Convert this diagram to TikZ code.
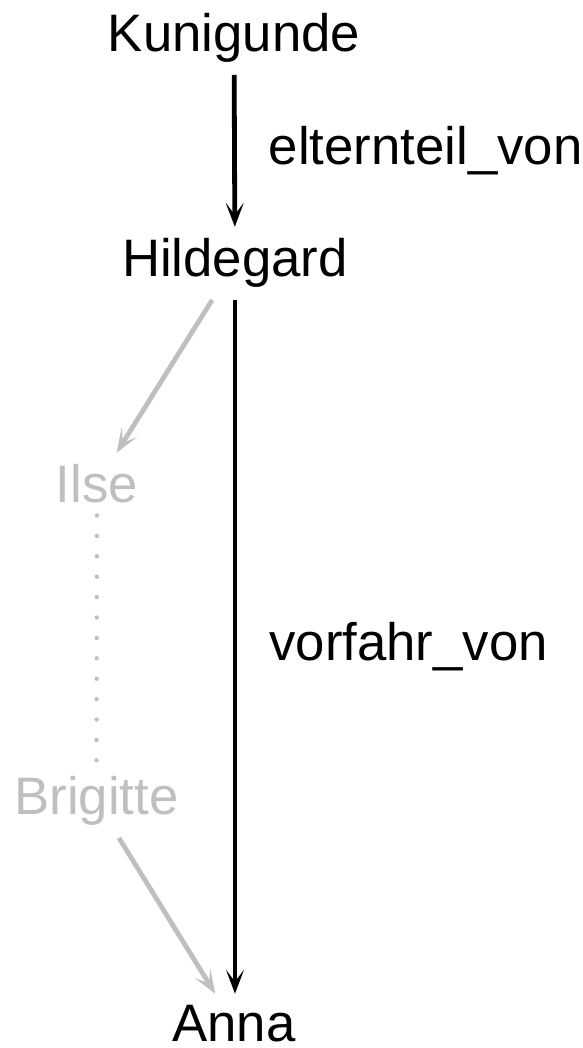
\documentclass[tikz,border=0pt]{standalone}
\usepackage{fontspec}
\setmainfont{Liberation Sans}
\usetikzlibrary{arrows.meta}

\tikzset{
    person/.style={inner sep=0.3cm, outer sep=0pt, anchor=base,
        font=\fontsize{37.5}{45}\selectfont},
    faded/.style={text=black!25},
    link/.style={-{Stealth[length=0.6cm, width=0.45cm, inset=0.3cm]},
        line width=0.12cm},
    fadedlink/.style={link, draw=black!25},
    chain/.style={draw=black!25, line width=0.11cm, line cap=round,
        dash pattern=on 0pt off 0.51cm},
    relname/.style={right, xshift=0.5cm, inner sep=0.3cm,
        font=\fontsize{37.5}{45}\selectfont},
}

\begin{document}
\begin{tikzpicture}
    \useasboundingbox (0, 0) rectangle (14.575, 26.2);

    \node[person] (Kunigunde) at (5.85, 24.9) {Kunigunde};
    \node[person] (Hildegard) at (5.875, 19.275) {Hildegard};
    \node[person, faded] (Ilse) at (2.425, 13.625) {Ilse};
    \node[person, faded] (Brigitte) at (2.41, 5.825) {Brigitte};
    \node[person] (Anna) at (5.85, 0.15) {Anna};

    % direct and indirect relations
    \draw[link] (Kunigunde) -- node[relname] {elternteil\_von} (Hildegard);
    \draw[link] (Hildegard.south) -- node[relname] {vorfahr\_von} (Hildegard.south |- Anna.north);

    % the chain in between
    \draw[fadedlink] (Hildegard) -- (Ilse);
    \draw[chain] (Ilse) -- (Brigitte);
    \draw[fadedlink] (Brigitte) -- (Anna);
\end{tikzpicture}
\end{document}
